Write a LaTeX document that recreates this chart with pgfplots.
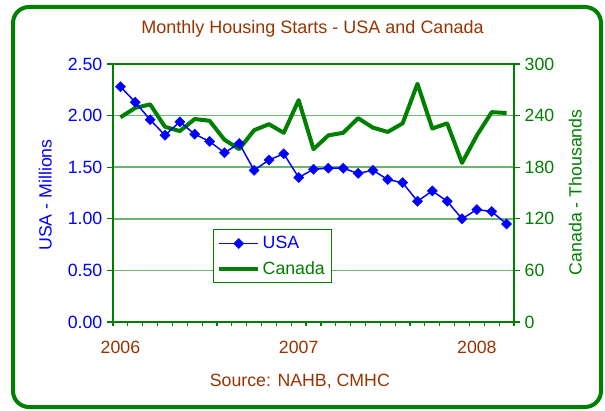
\documentclass[border=0pt]{standalone}
\usepackage{pgfplots}
\pgfplotsset{compat=1.18}
\usepackage{pgfplotstable}
\usepackage{fontspec}
\setmainfont{Liberation Sans}
\definecolor{dgreen}{HTML}{008000}
\definecolor{gridgreen}{HTML}{6DB56D}
\definecolor{tbrown}{HTML}{993300}
\definecolor{ublue}{HTML}{0000FF}

\pgfplotstableread{
m usa can
0 2.28 238
1 2.13 249
2 1.96 253
3 1.81 227
4 1.94 222
5 1.82 236
6 1.75 234
7 1.64 212
8 1.73 201
9 1.47 223
10 1.57 230
11 1.63 220
12 1.40 258
13 1.48 201
14 1.49 217
15 1.49 220
16 1.44 237
17 1.47 226
18 1.38 221
19 1.35 231
20 1.17 277
21 1.27 225
22 1.17 231
23 1.00 185
24 1.09 217
25 1.07 244
26 0.95 243
}\data

\begin{document}
\begin{tikzpicture}
\pgfplotsset{every axis/.append style={scale only axis, width=300.75pt, height=193.5pt,
  xmin=-0.5, xmax=26.5, at={(84.75pt,66pt)}, anchor=south west,
  font=\fontsize{13.3}{15}\selectfont, /pgf/number format/assume math mode=true,
  tick align=outside, major tick length=4.5pt}}
% axis 3: box, grid, x ticks, title, xlabel
\begin{axis}[
  ymin=0, ymax=2.5,
  axis line style={dgreen, line width=1.5pt},
  ytick={0.5,1,1.5,2}, yticklabels={}, ytick style={draw=none},
  ymajorgrids, grid style={gridgreen, line width=1.2pt},
  xtick={-0.5,0.5,...,26.5}, xticklabels={}, xtick pos=bottom,
  xtick style={dgreen, line width=0.9pt}, major tick length=3pt,
  extra x ticks={0,12,24}, extra x tick labels={2006,2007,2008},
  extra x tick style={major tick length=0pt, tick label style={tbrown, anchor=base, yshift=-23.5pt}},
  title={Monthly Housing Starts - USA and Canada},
  title style={at={(axis description cs:0.4975,1.0864)}, anchor=base, tbrown, font=\fontsize{13.5}{15}\selectfont},
  xlabel={Source: NAHB, CMHC},
  every axis x label/.style={at={(axis description cs:0.466,-0.249)}, anchor=base, tbrown},
]
\end{axis}
% axis 1: Canada, right
\begin{axis}[
  axis y line*=right, axis x line=none,
  ymin=0, ymax=300, ytick={0,60,...,300},
  y axis line style={dgreen, line width=1.5pt},
  ytick style={dgreen, line width=0.9pt},
  yticklabel style={dgreen},
  ylabel={Canada - Thousands},
  every axis y label/.style={at={(axis description cs:1.1688,0.503)}, anchor=base, rotate=90, dgreen},
]
\addplot[dgreen, line width=3pt, line join=round] table[x=m, y=can] {\data};
\end{axis}
% axis 2: USA, left
\begin{axis}[
  axis y line*=left, axis x line=none,
  ymin=0, ymax=2.5, ytick={0,0.5,...,2.5},
  y axis line style={dgreen, line width=1.5pt},
  ytick style={dgreen, line width=0.9pt},
  yticklabel style={ublue, /pgf/number format/.cd, fixed, fixed zerofill, precision=2},
  ylabel={USA - Millions},
  every axis y label/.style={at={(axis description cs:-0.1529,0.4922)}, anchor=base, rotate=90, ublue},
  legend image code/.code={\draw[mark repeat=2,mark phase=2,#1] plot coordinates {(0pt,0pt) (14.5pt,0pt) (29pt,0pt)};},
  legend cell align=left,
  legend style={at={(axis description cs:0.249,0.36)}, anchor=north west, draw=dgreen, line width=0.8pt, fill=white, row sep=4pt, inner sep=3pt},
]
\addplot[ublue, line width=1.1pt, mark=square*, mark size=2.7pt, mark options={rotate=45, fill=ublue, draw=ublue, line width=0.3pt}] table[x=m, y=usa] {\data};
\addlegendentry{\textcolor{ublue}{USA}}
\addlegendimage{dgreen, line width=3pt}
\addlegendentry{\textcolor{dgreen}{Canada}}
\end{axis}
\draw[dgreen, line width=3pt, rounded corners=12pt] (9.75pt,2.25pt) rectangle (450.75pt,302.25pt);
\pgfresetboundingbox
\useasboundingbox (0,0) rectangle (453.75pt,307.5pt);
\end{tikzpicture}
\end{document}
